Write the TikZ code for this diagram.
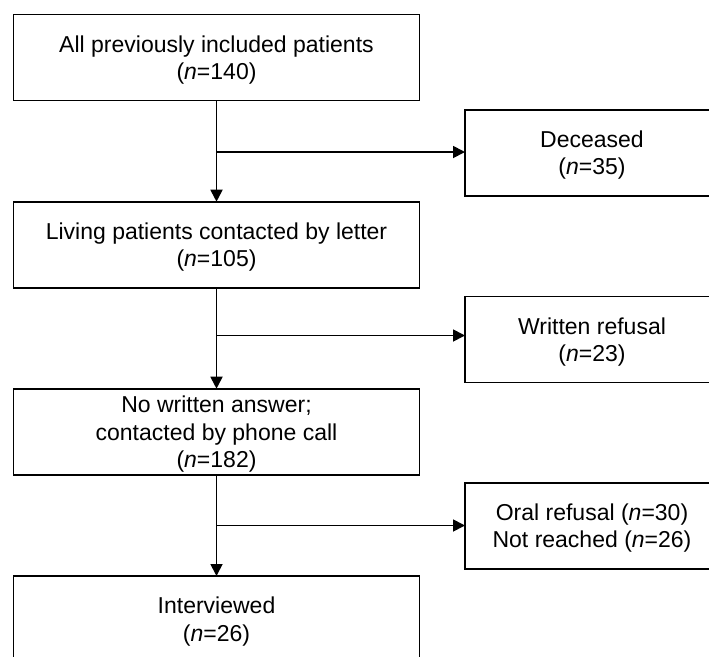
\documentclass[tikz,border=0pt]{standalone}
\usepackage{fontspec}
\setmainfont{Liberation Sans}
\usetikzlibrary{arrows.meta}
\newcommand{\mystrut}{\rule{0pt}{21.5pt}}
\begin{document}
\begin{tikzpicture}[x=1pt,y=1pt,
  box/.style={draw, line width=1.8pt, inner sep=0pt, outer sep=0pt, align=center,
    font=\fontsize{23}{27.5}\selectfont},
  lbox/.style={box, minimum width=406pt, minimum height=86pt},
  rbox/.style={box, minimum width=254pt, minimum height=86pt},
  conn/.style={line width=1.8pt},
  arr/.style={conn, -{Triangle[width=12pt,length=12pt]}}]
\useasboundingbox (0,0) rectangle (709,-656);
\clip (0,0) rectangle (709,-656);
% main column
\node[lbox] (b1) at (216.5,-57.5) {\mystrut All previously included patients\\(\textit{n}=140)};
\node[lbox] (b2) at (216.5,-244.7) {\mystrut Living patients contacted by letter\\(\textit{n}=105)};
\node[lbox] (b3) at (216.5,-431.7) {\mystrut No written answer;\\contacted by phone call\\(\textit{n}=182)};
\node[lbox] (b4) at (216.5,-619) {\mystrut Interviewed\\(\textit{n}=26)};
% side boxes
\node[rbox] (r1) at (592,-152.7) {\mystrut Deceased\\(\textit{n}=35)};
\node[rbox] (r2) at (592,-339.5) {\mystrut Written refusal\\(\textit{n}=23)};
\node[rbox] (r3) at (592,-525.8) {\mystrut Oral refusal (\textit{n}=30)\\Not reached (\textit{n}=26)};
% junctions
\coordinate (j1) at (216.5,-152);
\coordinate (j2) at (216.5,-335.5);
\coordinate (j3) at (216.5,-525.5);
% connectors
\draw[arr] (b1) -- (b2);
\draw[arr] (b2) -- (b3);
\draw[arr] (b3) -- (b4);
\draw[arr] (j1) -- (j1 -| r1.west);
\draw[arr] (j2) -- (j2 -| r2.west);
\draw[arr] (j3) -- (j3 -| r3.west);
\end{tikzpicture}
\end{document}
